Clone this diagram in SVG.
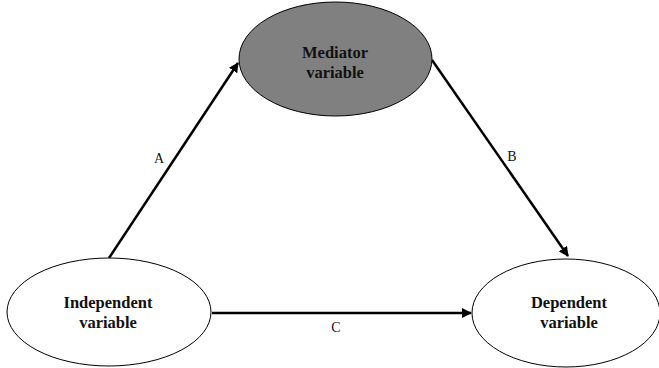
<svg xmlns="http://www.w3.org/2000/svg" width="659" height="368" viewBox="0 0 659 368">
  <style>
    .node { stroke: #000; stroke-width: 1; }
    .title { font-family: 'Liberation Serif', 'Times New Roman', Times, serif; font-weight: 700; font-size: 16.5px; fill: #111; text-anchor: middle; }
    .label { font-family: 'Liberation Serif', 'Times New Roman', Times, serif; font-size: 14px; fill: #111; text-anchor: middle; }
    .edge { stroke: #000; stroke-width: 2.5; fill: none; marker-end: url(#head); }
  </style>
  <defs>
    <marker id="head" viewBox="0 0 10 10" refX="9" refY="5" markerWidth="4" markerHeight="4" orient="auto" markerUnits="strokeWidth">
      <path d="M0,0 L10,5 L0,10 z" fill="#000"/>
    </marker>
  </defs>
  <rect width="659" height="368" fill="#fff"/>

  <g id="edges">
    <line class="edge" x1="109" y1="258" x2="238" y2="63"/>
    <line class="edge" x1="432" y1="60" x2="568" y2="256"/>
    <line class="edge" x1="212" y1="313" x2="471" y2="313"/>
    <text class="label" x="159" y="163">A</text>
    <text class="label" x="512" y="161">B</text>
    <text class="label" x="336" y="332">C</text>
  </g>

  <g id="mediator">
    <ellipse class="node" cx="335.5" cy="59" rx="96.5" ry="57" fill="#808080"/>
    <text class="title" x="335" y="58">Mediator</text>
    <text class="title" x="335" y="78">variable</text>
  </g>

  <g id="independent">
    <ellipse class="node" cx="109" cy="312" rx="102" ry="54" fill="#fff"/>
    <text class="title" x="108" y="308">Independent</text>
    <text class="title" x="108" y="328">variable</text>
  </g>

  <g id="dependent">
    <ellipse class="node" cx="566" cy="313" rx="94" ry="54" fill="#fff"/>
    <text class="title" x="569" y="308">Dependent</text>
    <text class="title" x="569" y="328">variable</text>
  </g>
</svg>
